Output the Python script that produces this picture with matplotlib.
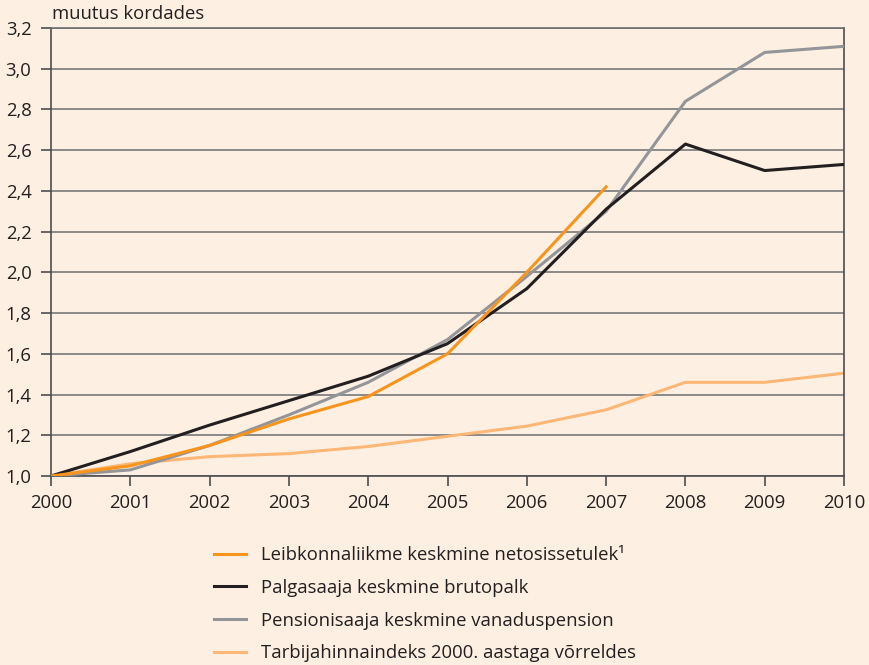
import matplotlib.pyplot as plt

years = [2000, 2001, 2002, 2003, 2004, 2005, 2006, 2007, 2008, 2009, 2010]
leibkond = [1.0, 1.05, 1.15, 1.28, 1.39, 1.60, 2.00, 2.42]
palk = [1.0, 1.12, 1.25, 1.37, 1.49, 1.65, 1.92, 2.31, 2.63, 2.50, 2.53]
pension = [1.0, 1.03, 1.15, 1.30, 1.46, 1.67, 1.98, 2.30, 2.84, 3.08, 3.11]
thi = [1.0, 1.06, 1.095, 1.11, 1.145, 1.195, 1.245, 1.325, 1.46, 1.46, 1.505]

labels = ['Leibkonnaliikme keskmine netosissetulek\u00b9',
          'Palgasaaja keskmine brutopalk',
          'Pensionisaaja keskmine vanaduspension',
          'Tarbijahinnaindeks 2000. aastaga võrreldes']
colors = ['#F7941D', '#231F20', '#939598', '#FDB777']
yticks = [1.0, 1.2, 1.4, 1.6, 1.8, 2.0, 2.2, 2.4, 2.6, 2.8, 3.0, 3.2]

bg = '#FDF0E2'
txt = '#231F20'
fs = 13.3
plt.rcParams['font.family'] = ['Open Sans', 'DejaVu Sans']

fig = plt.figure(figsize=(8.69, 6.65), dpi=100, facecolor=bg)
ax = fig.add_axes([51 / 869, 1 - 476 / 665, (844 - 51) / 869, (476 - 28) / 665])
ax.set_facecolor(bg)

ax.plot(years[:len(leibkond)], leibkond, color=colors[0], lw=2.2, label=labels[0], zorder=5)
ax.plot(years, palk, color=colors[1], lw=2.2, label=labels[1], zorder=4)
ax.plot(years, pension, color=colors[2], lw=2.2, label=labels[2], zorder=3)
ax.plot(years, thi, color=colors[3], lw=2.2, label=labels[3], zorder=2)

ax.set_xlim(2000, 2010)
ax.set_ylim(1.0, 3.2)
ax.set_xticks(years)
ax.set_yticks(yticks)
ax.set_yticklabels([f'{v:.1f}'.replace('.', ',') for v in yticks])
ax.grid(axis='y', color='#6D6E71', lw=1.1)
ax.set_axisbelow(True)
for s in ['left', 'right', 'bottom', 'top']:
    ax.spines[s].set_color('#4D4D4F')
    ax.spines[s].set_linewidth(1.2)
ax.spines['top'].set_color('#6D6E71')
ax.tick_params(axis='both', colors='#4D4D4F', labelcolor=txt, labelsize=fs,
               length=7, width=1.2, direction='out')
ax.tick_params(axis='x', pad=6)
ax.tick_params(axis='y', pad=7)

fig.text(52 / 869, 1 - 14 / 665, 'muutus kordades', fontsize=fs, color=txt,
         va='center', ha='left')

fig.legend(loc='upper left', bbox_to_anchor=(214 / 869, 1 - 546 / 665),
           frameon=False, fontsize=fs, labelcolor=txt, handlelength=1.75,
           handletextpad=0.8, labelspacing=0.8, borderpad=0, borderaxespad=0)

fig.savefig('out.png', dpi=100, facecolor=bg)
